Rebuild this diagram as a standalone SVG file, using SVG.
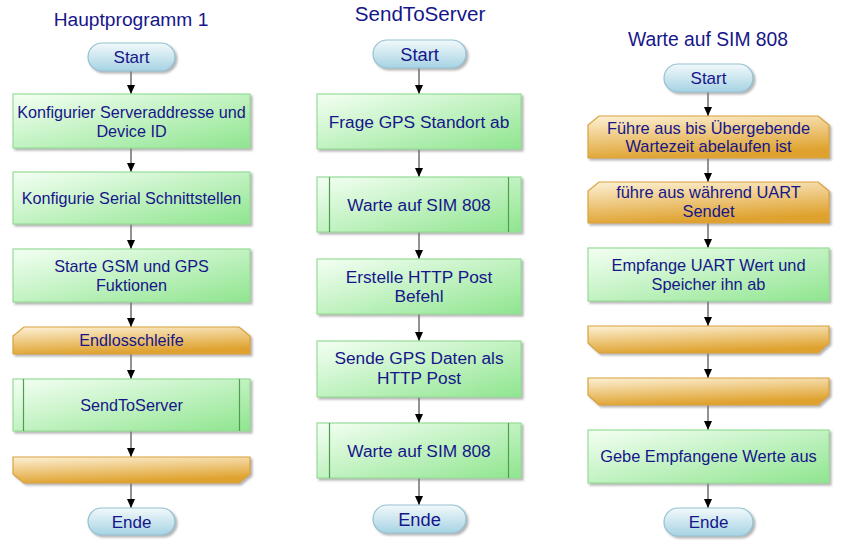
<svg xmlns="http://www.w3.org/2000/svg" width="841" height="541" viewBox="0 0 841 541">
<defs>
<linearGradient id="gGreen" x1="0" y1="0" x2="1" y2="1">
<stop offset="0" stop-color="#f4fff4"/>
<stop offset="1" stop-color="#8fe58f"/>
</linearGradient>
<linearGradient id="gOrange" x1="0" y1="0" x2="0.3" y2="1">
<stop offset="0" stop-color="#fdf1d6"/>
<stop offset="1" stop-color="#dfa22e"/>
</linearGradient>
<linearGradient id="gBlue" x1="0" y1="0" x2="0" y2="1">
<stop offset="0" stop-color="#f2f9fb"/>
<stop offset="1" stop-color="#a6d3e3"/>
</linearGradient>
<filter id="sh" x="-5%" y="-10%" width="115%" height="130%">
<feDropShadow dx="2" dy="2" stdDeviation="1" flood-color="#777" flood-opacity="0.55"/>
</filter>
<marker id="ah" markerUnits="userSpaceOnUse" markerWidth="9" markerHeight="8" refX="9" refY="4" orient="auto">
<path d="M0,0 L9,4 L0,8 z" fill="#000"/>
</marker>
<style>
.proc{fill:url(#gGreen);stroke:#96dc96;stroke-width:1.2;filter:url(#sh)}
.loop{fill:url(#gOrange);stroke:#d9a23a;stroke-width:1.2;filter:url(#sh)}
.term{fill:url(#gBlue);stroke:#95c1d2;stroke-width:1.2;filter:url(#sh)}
.sub{stroke:#4f9e4f;stroke-width:1.2}
.t{font-family:"Liberation Sans",Arial,sans-serif;font-size:16.2px;fill:#16168a;text-anchor:middle}
.tm{font-family:"Liberation Sans",Arial,sans-serif;font-size:17.3px;fill:#16168a;text-anchor:middle}
.tr{font-family:"Liberation Sans",Arial,sans-serif;font-size:16.4px;fill:#16168a;text-anchor:middle}
.tt{font-family:"Liberation Sans",Arial,sans-serif;font-size:17px;fill:#16168a;text-anchor:middle}
.ttm{font-family:"Liberation Sans",Arial,sans-serif;font-size:18.3px;fill:#16168a;text-anchor:middle}
.title{font-family:"Liberation Sans",Arial,sans-serif;font-size:19.2px;fill:#16168a;text-anchor:middle}
.c{stroke:#6e6e6e;stroke-width:1.5;fill:none;marker-end:url(#ah)}
</style>
</defs>
<rect width="841" height="541" fill="#fff"/>

<g id="titles">
<text class="title" x="131" y="26">Hauptprogramm 1</text>
<text class="title" x="420" y="21" style="font-size:20.6px">SendToServer</text>
<text class="title" x="708" y="46" style="font-size:19.3px">Warte auf SIM 808</text>
</g>

<g id="connectors">
<path class="c" d="M131,71 V94"/>
<path class="c" d="M131,148 V172"/>
<path class="c" d="M131,224 V249"/>
<path class="c" d="M131,302 V327"/>
<path class="c" d="M131,354 V379"/>
<path class="c" d="M131,431 V457"/>
<path class="c" d="M131,483 V508"/>
<path class="c" d="M419,68 V94"/>
<path class="c" d="M419,149 V177"/>
<path class="c" d="M419,232 V259"/>
<path class="c" d="M419,314 V341"/>
<path class="c" d="M419,397 V423"/>
<path class="c" d="M419,478 V505"/>
<path class="c" d="M708,92 V116"/>
<path class="c" d="M708,158 V182"/>
<path class="c" d="M708,223 V248"/>
<path class="c" d="M708,301 V326"/>
<path class="c" d="M708,353 V378"/>
<path class="c" d="M708,405 V430"/>
<path class="c" d="M708,483 V508"/>
</g>

<!-- Column 1 -->
<g id="h-start">
<rect class="term" x="88" y="43" width="87" height="28" rx="14"/>
<text class="tt" x="131.5" y="63">Start</text>
</g>
<g id="h-server">
<rect class="proc" x="13" y="94" width="237" height="54"/>
<text class="t" x="131.5" y="118">Konfigurier Serveraddresse und</text>
<text class="t" x="131.5" y="137">Device ID</text>
</g>
<g id="h-serial">
<rect class="proc" x="13" y="172" width="237" height="52"/>
<text class="t" x="131.5" y="204">Konfigurie Serial Schnittstellen</text>
</g>
<g id="h-gsm">
<rect class="proc" x="13" y="249" width="237" height="53"/>
<text class="t" x="131.5" y="272">Starte GSM und GPS</text>
<text class="t" x="131.5" y="291">Fuktionen</text>
</g>
<g id="h-loop">
<polygon class="loop" points="24,327 239,327 250,336 250,354 13,354 13,336"/>
<text class="t" x="131.5" y="346">Endlosschleife</text>
</g>
<g id="h-send">
<rect class="proc" x="13" y="379" width="237" height="52"/>
<line class="sub" x1="23.5" y1="379" x2="23.5" y2="431"/>
<line class="sub" x1="239.5" y1="379" x2="239.5" y2="431"/>
<text class="t" x="131.5" y="411">SendToServer</text>
</g>
<g id="h-loopend">
<polygon class="loop" points="13,457 250,457 250,474 239,483 24,483 13,474"/>
</g>
<g id="h-end">
<rect class="term" x="88" y="508" width="87" height="27" rx="13.5"/>
<text class="tt" x="131.5" y="528">Ende</text>
</g>

<!-- Column 2 -->
<g id="s-start">
<rect class="term" x="373" y="40" width="93" height="28" rx="14"/>
<text class="ttm" x="419.5" y="61">Start</text>
</g>
<g id="s-gps">
<rect class="proc" x="317" y="94" width="204" height="55"/>
<text class="tm" x="419" y="128">Frage GPS Standort ab</text>
</g>
<g id="s-wait1">
<rect class="proc" x="317" y="177" width="204" height="55"/>
<line class="sub" x1="329.5" y1="177" x2="329.5" y2="232"/>
<line class="sub" x1="508.5" y1="177" x2="508.5" y2="232"/>
<text class="tm" x="419" y="211">Warte auf SIM 808</text>
</g>
<g id="s-http">
<rect class="proc" x="317" y="259" width="204" height="55"/>
<text class="tm" x="419" y="283">Erstelle HTTP Post</text>
<text class="tm" x="419" y="302">Befehl</text>
</g>
<g id="s-send">
<rect class="proc" x="317" y="341" width="204" height="56"/>
<text class="tm" x="419" y="364">Sende GPS Daten als</text>
<text class="tm" x="419" y="384">HTTP Post</text>
</g>
<g id="s-wait2">
<rect class="proc" x="317" y="423" width="204" height="55"/>
<line class="sub" x1="329.5" y1="423" x2="329.5" y2="478"/>
<line class="sub" x1="508.5" y1="423" x2="508.5" y2="478"/>
<text class="tm" x="419" y="457">Warte auf SIM 808</text>
</g>
<g id="s-end">
<rect class="term" x="373" y="505" width="93" height="28" rx="14"/>
<text class="ttm" x="419.5" y="526">Ende</text>
</g>

<!-- Column 3 -->
<g id="w-start">
<rect class="term" x="664" y="64" width="89" height="28" rx="14"/>
<text class="tt" x="708.5" y="84">Start</text>
</g>
<g id="w-until">
<polygon class="loop" points="599,116 818,116 829,125 829,158 588,158 588,125"/>
<text class="tr" x="708.5" y="134">Führe aus bis Übergebende</text>
<text class="tr" x="708.5" y="152">Wartezeit abelaufen ist</text>
</g>
<g id="w-while">
<polygon class="loop" points="599,182 818,182 829,191 829,223 588,223 588,191"/>
<text class="tr" x="708.5" y="198">führe aus während UART</text>
<text class="tr" x="708.5" y="217">Sendet</text>
</g>
<g id="w-recv">
<rect class="proc" x="588" y="248" width="241" height="53"/>
<text class="tr" x="708.5" y="271">Empfange UART Wert und</text>
<text class="tr" x="708.5" y="290">Speicher ihn ab</text>
</g>
<g id="w-end1">
<polygon class="loop" points="588,326 829,326 829,343 818,353 599,353 588,343"/>
</g>
<g id="w-end2">
<polygon class="loop" points="588,378 829,378 829,395 818,405 599,405 588,395"/>
</g>
<g id="w-out">
<rect class="proc" x="588" y="430" width="241" height="53"/>
<text class="tr" x="708.5" y="462">Gebe Empfangene Werte aus</text>
</g>
<g id="w-endnode">
<rect class="term" x="664" y="508" width="89" height="28" rx="14"/>
<text class="tt" x="708.5" y="528">Ende</text>
</g>
</svg>
